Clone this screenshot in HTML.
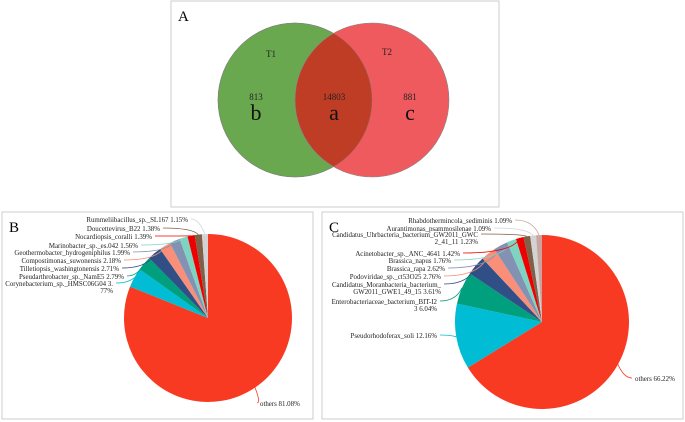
<!DOCTYPE html>
<html><head><meta charset="utf-8"><style>
body{margin:0;background:#fff;width:685px;height:422px;overflow:hidden;font-family:"Liberation Serif",serif}
svg{position:absolute;left:0;top:0}
</style></head><body>
<svg width="685" height="422" id="fig">
<g>
<rect x="171" y="1" width="328" height="206" fill="#fff" stroke="#ccc"/>
<text x="178" y="21" font-size="15">A</text>
<circle cx="295" cy="100" r="77" fill="#6aa84f" stroke="#888" stroke-width="0.6"/>
<circle cx="372" cy="100" r="77" fill="#ee5a5e" stroke="#888" stroke-width="0.6"/>
<clipPath id="cl"><circle cx="295" cy="100" r="77"/></clipPath>
<circle cx="372" cy="100" r="77" fill="#c03d25" clip-path="url(#cl)" stroke="#888" stroke-width="0.6"/>
<circle cx="295" cy="100" r="77" fill="none" stroke="#777" stroke-width="0.4"/>
<g font-size="9" text-anchor="middle" fill="#222">
<text x="271" y="57">T1</text>
<text x="387" y="55">T2</text>
<text x="256" y="100">813</text>
<text x="334" y="100">14803</text>
<text x="410" y="100">881</text>
</g>
<g font-size="22" text-anchor="middle" fill="#111">
<text x="256" y="120">b</text>
<text x="334" y="120">a</text>
<text x="410" y="120">c</text>
</g>
</g>
<rect x="2" y="212" width="311" height="207" fill="#fff" stroke="#ccc"/>
<text x="9" y="232" font-size="15">B</text>
<rect x="322" y="212" width="361" height="207" fill="#fff" stroke="#ccc"/>
<text x="329" y="232" font-size="15">C</text>
<g id="pieB"></g>
<g id="pieC"></g>
</svg>
<script>
const colors=["#f93a22","#00bcd4","#00a07f","#304f86","#f98f78","#8391b3","#7ed4c1","#ee0000","#7e6148","#d3d3d3","#c9a4a0"];
const bLabels=["others 81.08%","Corynebacterium_sp._HMSC06G04 3.|77%","Pseudarthrobacter_sp._NamE5 2.79%","Tilletiopsis_washingtonensis 2.71%","Compostimonas_suwonensis 2.18%","Geothermobacter_hydrogeniphilus 1.99%","Marinobacter_sp._es.042 1.56%","Nocardiopsis_coralli 1.39%","Doucettevirus_B22 1.38%","Rummeliibacillus_sp._SL167 1.15%"];
const bValues=[81.08,3.77,2.79,2.71,2.18,1.99,1.56,1.39,1.38,1.15];
const cLabels=["others 66.22%","Pseudorhodoferax_soli 12.16%","Enterobacteriaceae_bacterium_BIT-I2|3 6.04%","Candidatus_Moranbacteria_bacterium_|GW2011_GWE1_49_15 3.61%","Podoviridae_sp._ct53O25 2.76%","Brassica_rapa 2.62%","Brassica_napus 1.76%","Acinetobacter_sp._ANC_4641 1.42%","Candidatus_Uhrbacteria_bacterium_GW2011_GWC|2_41_11 1.23%","Aurantimonas_psammosilenae 1.09%","Rhabdothermincola_sediminis 1.09%"];
const cValues=[66.22,12.16,6.04,3.61,2.76,2.62,1.76,1.42,1.23,1.09,1.09];
// label anchor positions (layout only)
const bPos=[[260,406,"start"],[113,286,"end"],[124,279,"end"],[119,271,"end"],[121,263,"end"],[130,255,"end"],[138,248,"end"],[152,239,"end"],[160,231,"end"],[188,222,"end"]];
const cPos=[[635,381,"start"],[437,338,"end"],[437,304,"end"],[441,287,"end"],[441,279,"end"],[445,271,"end"],[451,263,"end"],[460,256,"end"],[478,237,"end"],[491,231,"end"],[512,223,"end"]];
const NS="http://www.w3.org/2000/svg";
function pie(g,cx,cy,r,vals,labels,pos,name){
  const tot=vals.reduce((a,b)=>a+b,0);let a0=-Math.PI/2;
  vals.forEach((v,i)=>{
    const a1=a0+v/tot*2*Math.PI;
    const x0=cx+r*Math.cos(a0),y0=cy+r*Math.sin(a0),x1=cx+r*Math.cos(a1),y1=cy+r*Math.sin(a1);
    const p=document.createElementNS(NS,"path");
    p.setAttribute("d",`M${cx},${cy}L${x0},${y0}A${r},${r} 0 ${a1-a0>Math.PI?1:0} 1 ${x1},${y1}Z`);
    p.setAttribute("fill",colors[i]);
    
    
    g.appendChild(p);
    const am=(a0+a1)/2;const ex=cx+r*Math.cos(am),ey=cy+r*Math.sin(am);
    const [lx,ly,anc]=pos[i];
    const sx=anc=="end"?lx+3:lx-3, sy=ly-3;
    const ln=document.createElementNS(NS,"path");
    ln.setAttribute("d",`M${ex},${ey}Q${ex+(anc=="end"?-6:6)},${sy} ${sx},${sy}`);
    ln.setAttribute("fill","none");ln.setAttribute("stroke",colors[i]);ln.setAttribute("stroke-width","0.8");
    
    
    g.appendChild(ln);
    const lines=labels[i].split("|");
    lines.forEach((t,k)=>{
      const tx=document.createElementNS(NS,"text");
      tx.setAttribute("x",lx);tx.setAttribute("y",ly+k*7);
      tx.setAttribute("text-anchor",anc);tx.setAttribute("font-size","6.9");tx.setAttribute("fill","#222");
      tx.textContent=t;
      
      
      g.appendChild(tx);
    });
    a0=a1;
  });
}
pie(document.getElementById("pieB"),208,318,84,bValues,bLabels,bPos,"pie-b");
pie(document.getElementById("pieC"),542,322,87,cValues,cLabels,cPos,"pie-c");
</script>
</body></html>
